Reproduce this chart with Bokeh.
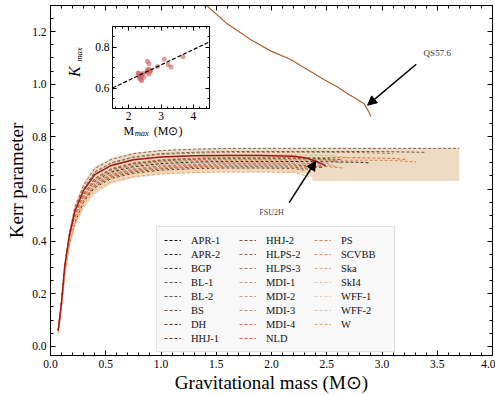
from bokeh.plotting import figure
from bokeh.models import (Range1d, LinearAxis, SingleIntervalTicker, PrintfTickFormatter,
                          CustomJSTickFormatter, Legend, LegendItem, Arrow, NormalHead, Label)
from bokeh.layouts import column
from bokeh.embed import file_html
from bokeh.resources import INLINE

# ---------------- data ----------------
eos_names = ["APR-1", "APR-2", "BGP", "BL-1", "BL-2", "BS", "DH", "HHJ-1",
             "HHJ-2", "HLPS-2", "HLPS-3", "MDI-1", "MDI-2", "MDI-3", "MDI-4", "NLD",
             "PS", "SCVBB", "Ska", "SkI4", "WFF-1", "WFF-2", "W"]
eos_colors = ["#111111", "#262626", "#444444", "#585858", "#64564c", "#6e5040", "#5c3422", "#6c361c",
              "#7e5234", "#8c6452", "#a2806e", "#b8988a", "#c89c84", "#d09272", "#cc7a4c", "#cf6c34",
              "#e08452", "#f08c5a", "#f4a272", "#f8c0a0", "#f9cba8", "#f7c094", "#f0a262"]

mass_grid = [0.07, 0.10, 0.13, 0.17, 0.22, 0.30, 0.40, 0.55, 0.75, 1.00, 1.30, 1.60, 1.90,
             2.20, 2.50, 2.80, 3.10, 3.40]

kerr_APR1 = [0.06, 0.16, 0.29, 0.40, 0.48, 0.565, 0.625, 0.66, 0.68, 0.692, 0.698, 0.70, 0.70, 0.699]
kerr_APR2 = [0.06, 0.16, 0.29, 0.40, 0.485, 0.57, 0.63, 0.665, 0.685, 0.697, 0.703, 0.705, 0.705, 0.705, 0.704, 0.702]
kerr_BGP = [0.06, 0.16, 0.29, 0.40, 0.48, 0.56, 0.62, 0.655, 0.675, 0.687, 0.692, 0.695, 0.695, 0.694]
kerr_BL1 = [0.06, 0.17, 0.30, 0.41, 0.50, 0.58, 0.64, 0.677, 0.698, 0.71, 0.716, 0.718, 0.718, 0.718, 0.716]
kerr_BL2 = [0.06, 0.16, 0.29, 0.40, 0.475, 0.555, 0.61, 0.645, 0.665, 0.677, 0.683, 0.685, 0.685, 0.684]
kerr_BS = [0.06, 0.17, 0.31, 0.42, 0.52, 0.60, 0.665, 0.70, 0.722, 0.735, 0.74, 0.743, 0.743, 0.743, 0.743, 0.743, 0.742]
kerr_DH = [0.06, 0.16, 0.28, 0.39, 0.47, 0.55, 0.605, 0.64, 0.66, 0.672, 0.678, 0.68, 0.68, 0.679]
kerr_HHJ1 = [0.06, 0.16, 0.29, 0.40, 0.48, 0.56, 0.615, 0.65, 0.67, 0.682, 0.688, 0.69, 0.69, 0.69]
kerr_HHJ2 = [0.06, 0.17, 0.30, 0.41, 0.50, 0.58, 0.638, 0.674, 0.695, 0.707, 0.713, 0.715, 0.715, 0.715, 0.713]
kerr_HLPS2 = [0.06, 0.17, 0.31, 0.43, 0.53, 0.615, 0.678, 0.713, 0.735, 0.747, 0.752, 0.755, 0.755, 0.755, 0.755, 0.755, 0.755, 0.755]
kerr_HLPS3 = [0.06, 0.17, 0.31, 0.42, 0.52, 0.60, 0.662, 0.698, 0.72, 0.732, 0.737, 0.74, 0.74, 0.74, 0.74, 0.739]
kerr_MDI1 = [0.06, 0.17, 0.30, 0.41, 0.495, 0.575, 0.635, 0.67, 0.692, 0.704, 0.71, 0.712, 0.712, 0.712, 0.71]
kerr_MDI2 = [0.06, 0.16, 0.29, 0.40, 0.485, 0.565, 0.624, 0.66, 0.68, 0.692, 0.698, 0.70, 0.70, 0.70, 0.698]
kerr_MDI3 = [0.06, 0.16, 0.29, 0.40, 0.48, 0.56, 0.62, 0.655, 0.675, 0.686, 0.692, 0.694, 0.694, 0.694, 0.692]
kerr_MDI4 = [0.06, 0.16, 0.29, 0.40, 0.48, 0.556, 0.613, 0.648, 0.668, 0.68, 0.686, 0.688, 0.688, 0.688, 0.686]
kerr_NLD = [0.06, 0.17, 0.30, 0.41, 0.50, 0.58, 0.64, 0.677, 0.70, 0.712, 0.718, 0.72, 0.72, 0.72, 0.72, 0.719, 0.717]
kerr_PS = [0.06, 0.16, 0.29, 0.40, 0.49, 0.57, 0.632, 0.668, 0.69, 0.702, 0.708, 0.71, 0.71, 0.71, 0.71, 0.71, 0.709]
kerr_SCVBB = [0.06, 0.16, 0.29, 0.40, 0.48, 0.56, 0.615, 0.65, 0.67, 0.682, 0.688, 0.69, 0.69, 0.689]
kerr_Ska = [0.06, 0.17, 0.30, 0.42, 0.51, 0.59, 0.652, 0.688, 0.71, 0.722, 0.728, 0.73, 0.73, 0.73, 0.728]
kerr_SkI4 = [0.06, 0.16, 0.29, 0.40, 0.485, 0.565, 0.624, 0.66, 0.68, 0.692, 0.698, 0.70, 0.70, 0.699]
kerr_WFF1 = [0.05, 0.15, 0.28, 0.39, 0.47, 0.545, 0.60, 0.635, 0.655, 0.667, 0.673, 0.675, 0.675, 0.674]
kerr_WFF2 = [0.05, 0.15, 0.28, 0.39, 0.47, 0.55, 0.605, 0.64, 0.66, 0.672, 0.678, 0.68, 0.68, 0.679]
kerr_W = [0.05, 0.15, 0.28, 0.39, 0.465, 0.54, 0.595, 0.627, 0.647, 0.658, 0.663, 0.665, 0.665, 0.664]

eos_mmax = [2.38, 2.88, 2.45, 2.63, 2.33, 3.40, 2.29, 2.47, 2.58, 3.70, 3.10, 2.63, 2.56, 2.58,
            2.65, 3.22, 3.31, 2.40, 2.69, 2.45, 2.33, 2.40, 2.36]
eos_kend = [0.695, 0.700, 0.688, 0.712, 0.676, 0.740, 0.672, 0.682, 0.706, 0.755, 0.735, 0.700, 0.692,
            0.686, 0.680, 0.712, 0.703, 0.676, 0.720, 0.690, 0.660, 0.665, 0.645]

eos_kerr = [kerr_APR1, kerr_APR2, kerr_BGP, kerr_BL1, kerr_BL2, kerr_BS, kerr_DH, kerr_HHJ1,
            kerr_HHJ2, kerr_HLPS2, kerr_HLPS3, kerr_MDI1, kerr_MDI2, kerr_MDI3, kerr_MDI4, kerr_NLD,
            kerr_PS, kerr_SCVBB, kerr_Ska, kerr_SkI4, kerr_WFF1, kerr_WFF2, kerr_W]

fsu_mass = [0.07, 0.10, 0.13, 0.17, 0.22, 0.30, 0.40, 0.55, 0.75, 1.00, 1.30, 1.60, 1.90, 2.20,
            2.32, 2.40, 2.46, 2.49]
fsu_kerr = [0.06, 0.17, 0.31, 0.42, 0.515, 0.595, 0.655, 0.69, 0.712, 0.722, 0.727, 0.728, 0.728,
            0.725, 0.718, 0.706, 0.695, 0.688]

qs_mass = [1.40, 1.60, 1.81, 2.00, 2.17, 2.32, 2.47, 2.59, 2.68, 2.77, 2.84, 2.87, 2.90]
qs_kerr = [1.305, 1.23, 1.17, 1.125, 1.095, 1.057, 1.019, 0.991, 0.966, 0.943, 0.924, 0.902, 0.877]

band_mass = [0.07, 0.10, 0.13, 0.17, 0.22, 0.30, 0.40, 0.55, 0.75, 1.00, 1.30, 1.60, 2.00, 2.30,
             2.37, 2.37, 3.70]
band_hi = [0.06, 0.18, 0.32, 0.44, 0.54, 0.625, 0.685, 0.718, 0.738, 0.749, 0.754, 0.756, 0.757,
           0.757, 0.757, 0.757, 0.757]
band_lo = [0.05, 0.14, 0.26, 0.37, 0.45, 0.525, 0.58, 0.62, 0.642, 0.655, 0.661, 0.664, 0.664,
           0.66, 0.645, 0.631, 0.631]

inset_mmax = [2.29, 2.31, 2.33, 2.33, 2.36, 2.38, 2.40, 2.40, 2.45, 2.47, 2.56, 2.58, 2.58, 2.62,
              2.63, 2.63, 2.65, 2.69, 2.89, 3.10, 3.22, 3.31, 3.68]
inset_kmax = [0.672, 0.672, 0.660, 0.648, 0.655, 0.643, 0.635, 0.665, 0.672, 0.652, 0.677, 0.688,
              0.730, 0.693, 0.718, 0.668, 0.680, 0.685, 0.705, 0.740, 0.715, 0.703, 0.753]
fit_m = [1.5, 4.5]
fit_k = [0.600, 0.825]

SERIF = "Liberation Serif"

# ---------------- main figure ----------------
p = figure(width=495, height=395, x_range=Range1d(0, 4), y_range=Range1d(-0.035, 1.30),
           output_backend="svg", toolbar_location=None,
           min_border_left=50, min_border_right=3, min_border_top=5, min_border_bottom=38,
           x_axis_label="Gravitational mass (M\u2299)", y_axis_label="Kerr parameter")
p.grid.visible = False
p.outline_line_color = "black"
p.outline_line_width = 1
p.background_fill_color = "white"
p.border_fill_color = "white"


def style_axis(ax, labels=True):
    ax.major_tick_in = 5
    ax.major_tick_out = 0
    ax.minor_tick_in = 3
    ax.minor_tick_out = 0
    ax.axis_line_color = "black"
    ax.major_tick_line_color = "black"
    ax.minor_tick_line_color = "black"
    ax.major_label_text_font = SERIF
    ax.major_label_text_font_size = "11.5px" if labels else "0px"
    ax.major_label_text_color = "black"
    ax.axis_label_text_font = SERIF
    ax.axis_label_text_font_size = "19px"
    ax.axis_label_text_font_style = "normal"
    ax.axis_label_text_color = "black"


xb = p.xaxis[0]
xb.ticker = SingleIntervalTicker(interval=0.5, num_minor_ticks=5)
xb.formatter = PrintfTickFormatter(format="%.1f")
style_axis(xb)
xb.major_label_standoff = 4
xb.axis_label_standoff = 1

yl = p.yaxis[0]
yl.ticker = SingleIntervalTicker(interval=0.2, num_minor_ticks=4)
yl.formatter = PrintfTickFormatter(format="%.1f")
style_axis(yl)
yl.major_label_standoff = 4
yl.axis_label_standoff = 2

for loc, tk in (("above", SingleIntervalTicker(interval=0.5, num_minor_ticks=5)),
                ("right", SingleIntervalTicker(interval=0.2, num_minor_ticks=4))):
    ax = LinearAxis(ticker=tk, formatter=CustomJSTickFormatter(code="return ''"))
    style_axis(ax, labels=False)
    ax.major_label_standoff = 0
    p.add_layout(ax, loc)

# shaded band
p.varea(x=band_mass, y1=band_lo, y2=band_hi, fill_color="#deb887", fill_alpha=0.5)

items = []
for name, col, ks, mm, ke in zip(eos_names, eos_colors, eos_kerr, eos_mmax, eos_kend):
    xs = mass_grid[:len(ks)] + [mm]
    ys = ks + [ke]
    r = p.line(xs, ys, line_color=col, line_width=1.0, line_dash="3 2")
    items.append(LegendItem(label=name, renderers=[r]))

p.line(fsu_mass, fsu_kerr, line_color="#a31515", line_width=1.5)
p.line(qs_mass, qs_kerr, line_color="#b0602a", line_width=1.2)

legend = Legend(items=items, nrows=8, location=(106, 3),
                label_text_font=SERIF, label_text_font_size="10.5px", label_text_color="#111111",
                glyph_width=17, glyph_height=12, label_height=12, label_width=46,
                label_standoff=10, spacing=2, padding=7, margin=0,
                border_line_color="#cccccc", border_line_width=1,
                background_fill_color="#f8f8f8", background_fill_alpha=1.0)
p.add_layout(legend)

# arrows and notes
p.add_layout(Arrow(end=NormalHead(size=9, fill_color="black", line_color="black"),
                   x_start=3.31, y_start=1.076, x_end=2.87, y_end=0.92,
                   line_color="black", line_width=1.5))
p.add_layout(Arrow(end=NormalHead(size=9, fill_color="black", line_color="black"),
                   x_start=2.16, y_start=0.548, x_end=2.40, y_end=0.706,
                   line_color="black", line_width=1.5))
p.add_layout(Label(x=3.50, y=1.118, text="QS57.6", text_font=SERIF, text_font_size="9px",
                   text_color="#333333", text_align="center", text_baseline="middle"))
p.add_layout(Label(x=2.00, y=0.512, text="FSU2H", text_font=SERIF, text_font_size="8px",
                   text_color="#444444", text_align="center", text_baseline="middle"))

# inset axis labels (drawn on main figure, under the transparent inset border)
p.add_layout(Label(x=0.661, y=0.820, text="M", text_font=SERIF, text_font_size="12px",
                   text_color="black", text_align="left", text_baseline="alphabetic"))
p.add_layout(Label(x=0.762, y=0.812, text="max", text_font=SERIF, text_font_size="8.5px",
                   text_font_style="italic", text_color="black", text_align="left",
                   text_baseline="alphabetic"))
p.add_layout(Label(x=0.935, y=0.820, text="(M\u2299)", text_font=SERIF, text_font_size="12px",
                   text_color="black", text_align="left", text_baseline="alphabetic"))
p.add_layout(Label(x=0.217, y=1.048, text="K", text_font=SERIF, text_font_size="16px",
                   text_font_style="italic", text_color="black", text_align="center",
                   text_baseline="middle", angle=1.5708))
p.add_layout(Label(x=0.257, y=1.113, text="max", text_font=SERIF, text_font_size="8.5px",
                   text_font_style="italic", text_color="black", text_align="center",
                   text_baseline="middle", angle=1.5708))

# ---------------- inset ----------------
ins = figure(width=150, height=118, x_range=Range1d(1.5, 4.5), y_range=Range1d(0.5, 0.9),
             output_backend="svg", toolbar_location=None,
             min_border_left=35, min_border_right=3, min_border_top=4, min_border_bottom=32)
ins.grid.visible = False
ins.outline_line_color = "black"
ins.background_fill_color = "white"
ins.border_fill_alpha = 0
ins.styles = {"position": "absolute", "left": "62px", "top": "22px"}

ixb = ins.xaxis[0]
ixb.ticker = SingleIntervalTicker(interval=1, num_minor_ticks=5)
ixb.formatter = PrintfTickFormatter(format="%d")
style_axis(ixb)
ixb.major_label_standoff = 3
iyl = ins.yaxis[0]
iyl.ticker = SingleIntervalTicker(interval=0.2, num_minor_ticks=4)
iyl.formatter = PrintfTickFormatter(format="%.1f")
style_axis(iyl)
iyl.major_label_standoff = 3
for ax_ in (ixb, iyl):
    ax_.major_tick_in = 4
    ax_.minor_tick_in = 2
for loc, tk in (("above", SingleIntervalTicker(interval=1, num_minor_ticks=5)),
                ("right", SingleIntervalTicker(interval=0.2, num_minor_ticks=4))):
    ax = LinearAxis(ticker=tk, formatter=CustomJSTickFormatter(code="return ''"))
    style_axis(ax, labels=False)
    ax.major_tick_in = 4
    ax.minor_tick_in = 2
    ax.major_label_standoff = 0
    ins.add_layout(ax, loc)

ins.scatter(inset_mmax, inset_kmax, size=5, fill_color="indianred", fill_alpha=0.6, line_color=None)
ins.line(fit_m, fit_k, line_color="black", line_width=1.2, line_dash="4 2")

layout = column(p, ins)
open("out.html", "w").write(file_html(layout, INLINE))
